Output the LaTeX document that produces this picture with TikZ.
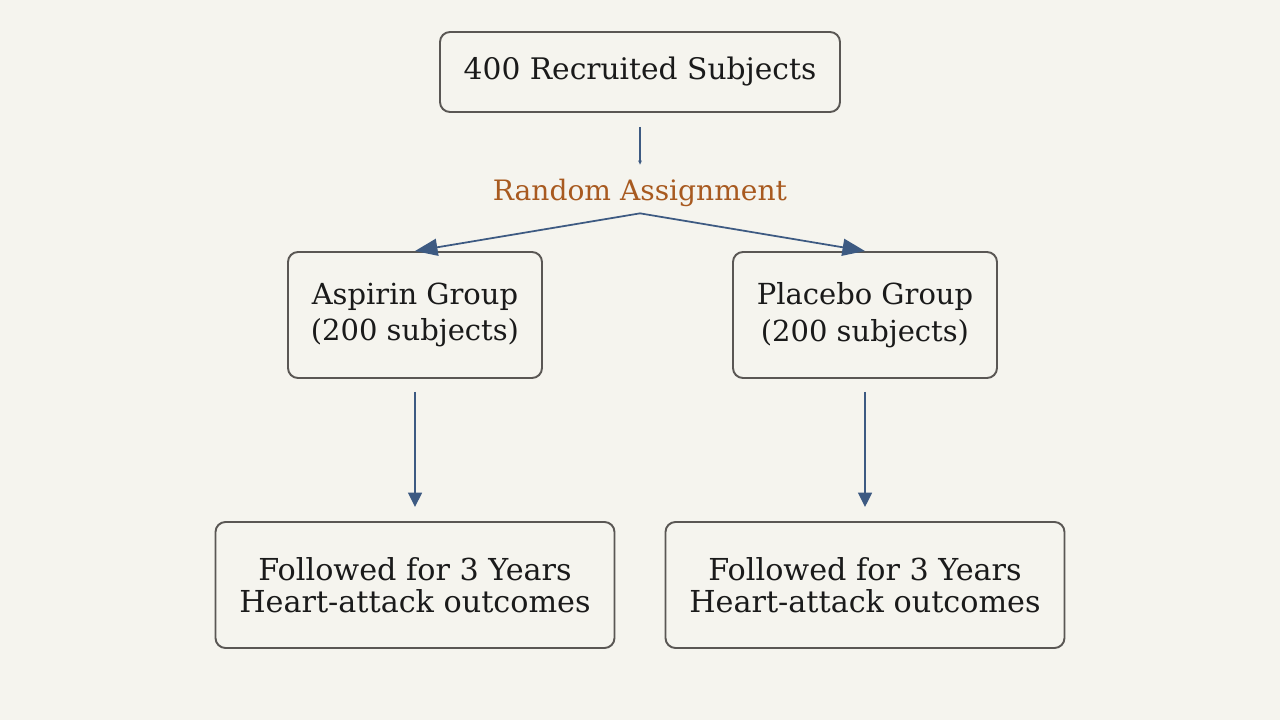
\documentclass[tikz,border=0pt]{standalone}
\usepackage{fontspec}
\setmainfont{DejaVu Serif}
\usepackage{xcolor}
\usepackage{tikz}
\usetikzlibrary{arrows.meta}

\definecolor{paper}{HTML}{F5F4EE}
\definecolor{boxline}{HTML}{5A5754}
\definecolor{flowblue}{HTML}{3D5A82}
\definecolor{assignbrown}{HTML}{A85A20}
\definecolor{ink}{HTML}{1A1A1A}

\tikzset{
	stage/.style={draw=boxline,line width=1.1pt,rounded corners=0.2cm,fill=paper,
		text=ink,align=center,inner sep=0pt,minimum height=2.52cm},
	group/.style={stage,font=\fontsize{16.5}{21}\selectfont},
	outcome/.style={stage,minimum width=7.98cm,font=\fontsize{17.2}{18.2}\selectfont},
}

\begin{document}
\begin{tikzpicture}
	\fill[paper] (0,0) rectangle (25.6,14.4);
	\useasboundingbox (0,0) rectangle (25.6,14.4);
	% nodes
	\node[stage,minimum width=8cm,minimum height=1.6cm,font=\fontsize{16.9}{20}\selectfont] (R) at (12.8,12.96) {400 Recruited Subjects};
	\node[text=assignbrown,inner sep=0pt,minimum height=1.16cm,font=\fontsize{16}{18}\selectfont] (RA) at (12.8,10.55) {Random Assignment};
	\node[group,minimum width=5.08cm] (A) at (8.3,8.1) {Aspirin Group\\(200 subjects)};
	\node[group,minimum width=5.28cm] (P) at (17.3,8.1) {Placebo Group\\(200 subjects)};
	\node[outcome] (A') at (8.3,2.7) {Followed for 3 Years\\Heart-attack outcomes};
	\node[outcome] (P') at (17.3,2.7) {Followed for 3 Years\\Heart-attack outcomes};
	%
	\path[color=flowblue,line width=1pt]
	% assignment
	(R.south) edge[shorten <=0.28cm,shorten >=-0.03cm,-{Triangle[length=0.08cm,width=0.07cm]}] (RA.north)
	([yshift=0.17cm]RA.south) edge[-{Triangle[length=0.45cm,width=0.34cm]}] (A.north)
	([yshift=0.17cm]RA.south) edge[-{Triangle[length=0.45cm,width=0.34cm]}] (P.north)
	% follow-up
	(A.south) edge[shorten <=0.26cm,shorten >=0.28cm,-{Triangle[length=0.29cm,width=0.28cm]}] (A'.north)
	(P.south) edge[shorten <=0.26cm,shorten >=0.28cm,-{Triangle[length=0.29cm,width=0.28cm]}] (P'.north);
\end{tikzpicture}
\end{document}
